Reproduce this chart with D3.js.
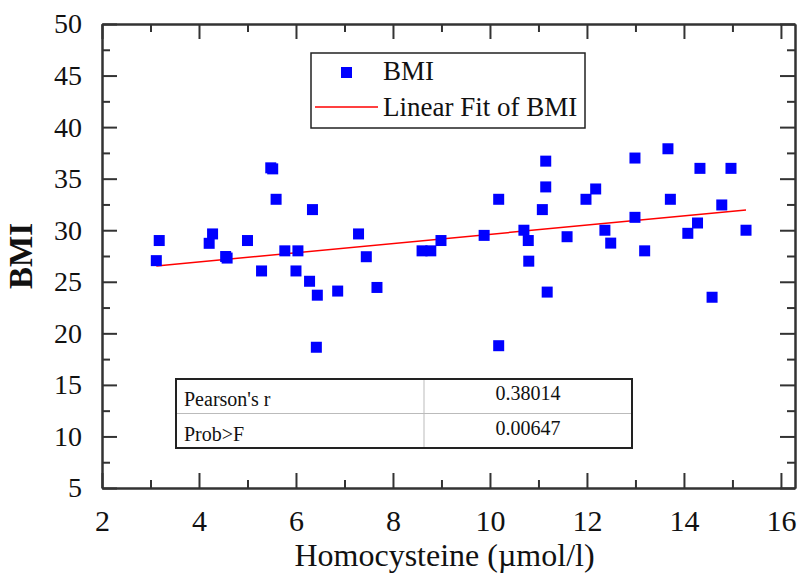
<!DOCTYPE html>
<html>
<head>
<meta charset="utf-8">
<script src="https://cdn.jsdelivr.net/npm/d3@7"></script>
<style>
  body { margin: 0; background: #fff; }
  svg, svg text { font-family: "Liberation Serif", "LiberationSerif", Tinos, "Times New Roman", "DejaVu Serif", serif !important; }
  svg text { fill: #111; }
  .axis path, .axis line { stroke: #333; }
</style>
</head>
<body>
<div id="chart"></div>
<script>
// data
const hcy = [3.12, 3.18, 4.21, 4.28, 4.55, 4.58, 5.0, 5.29, 5.48, 5.52, 5.59, 5.77, 6.0, 6.04, 6.28, 6.34, 6.42, 6.44, 6.86, 7.29,
  7.45, 7.67, 8.6, 8.78, 8.99, 9.88, 10.18, 10.18, 10.7, 10.79, 10.8, 11.08, 11.15, 11.15, 11.18, 11.59, 11.98, 12.18, 12.37, 12.49,
  12.99, 12.99, 13.19, 13.67, 13.72, 14.08, 14.28, 14.33, 14.58, 14.78, 14.97, 15.28]
const bmi = [27.05, 29.0, 28.73, 29.64, 27.45, 27.3, 29.0, 26.05, 36.05, 35.95, 33.0, 28.0, 26.05, 28.0, 25.05, 32.0, 18.65, 23.7, 24.1, 29.64,
  27.43, 24.45, 28.0, 28.0, 29.0, 29.5, 33.0, 18.8, 30.0, 29.0, 27.0, 32.0, 36.7, 34.2, 24.0, 29.37, 33.0, 34.0, 30.0, 28.75,
  37.0, 31.25, 28.0, 37.9, 33.0, 29.7, 30.7, 36.0, 23.5, 32.45, 36.0, 30.0]
const fitX = [3.12, 15.28]
const fitY = [26.53, 31.96]
const xTicks = [2, 4, 6, 8, 10, 12, 14, 16]
const yTicks = [5, 10, 15, 20, 25, 30, 35, 40, 45, 50]
const statNames = ["Pearson's r", "Prob>F"]
const statValues = ["0.38014", "0.00647"]

const WIDTH = 800, HEIGHT = 581
const MARGIN = {TOP: 24, RIGHT: 5, BOTTOM: 93, LEFT: 102}
const SERIF = "'Liberation Serif', 'Times New Roman', serif"

const svg = d3.select("#chart").append("svg")
  .attr("width", WIDTH)
  .attr("height", HEIGHT)
  .attr("font-family", SERIF)

const x = d3.scaleLinear().domain([2, 16.29]).range([MARGIN.LEFT, WIDTH - MARGIN.RIGHT])
const y = d3.scaleLinear().domain([5, 50]).range([HEIGHT - MARGIN.BOTTOM, MARGIN.TOP])

const xMinor = d3.range(3, 16.5, 2)
const yMinor = d3.range(7.5, 50, 5)

function drawAxis(axis, tx, ty, labels, fontSize) {
  const g = svg.append("g").attr("class", "axis")
    .attr("transform", `translate(${tx},${ty})`)
    .call(axis)
    .attr("font-family", SERIF)
  g.select(".domain").attr("stroke-width", 2)
  g.selectAll(".tick line").attr("stroke-width", 2)
  if (!labels) g.selectAll(".tick text").remove()
  else g.selectAll(".tick text").attr("font-size", fontSize).attr("fill", "#111")
  return g
}

const yb = HEIGHT - MARGIN.BOTTOM
const xr = WIDTH - MARGIN.RIGHT

// minor ticks
drawAxis(d3.axisBottom(x).tickValues(xMinor).tickSize(-8).tickSizeOuter(0), 0, yb, false)
drawAxis(d3.axisTop(x).tickValues(xMinor).tickSize(-8).tickSizeOuter(0), 0, MARGIN.TOP, false)
drawAxis(d3.axisLeft(y).tickValues(yMinor).tickSize(-8).tickSizeOuter(0), MARGIN.LEFT, 0, false)
drawAxis(d3.axisRight(y).tickValues(yMinor).tickSize(-8).tickSizeOuter(0), xr, 0, false)

// major ticks
const bx = drawAxis(d3.axisBottom(x).tickValues(xTicks).tickSize(-15).tickSizeOuter(0).tickPadding(22), 0, yb, true, "30px")
bx.selectAll(".tick text").attr("dy", "0.71em")
drawAxis(d3.axisTop(x).tickValues(xTicks).tickSize(-15).tickSizeOuter(0), 0, MARGIN.TOP, false)
drawAxis(d3.axisLeft(y).tickValues(yTicks).tickSize(-15).tickSizeOuter(0).tickPadding(20), MARGIN.LEFT, 0, true, "28px")
drawAxis(d3.axisRight(y).tickValues(yTicks).tickSize(-15).tickSizeOuter(0), xr, 0, false)

// axis titles
svg.append("text")
  .attr("x", (MARGIN.LEFT + xr) / 2 - 4)
  .attr("y", 566)
  .attr("text-anchor", "middle")
  .attr("font-size", "32px")
  .text("Homocysteine (\u00b5mol/l)")

svg.append("text")
  .attr("transform", "translate(32,256) rotate(-90)")
  .attr("text-anchor", "middle")
  .attr("font-size", "33px")
  .attr("font-weight", "bold")
  .text("BMI")

// fit line
const line = d3.line().x(d => x(d[0])).y(d => y(d[1]))
svg.append("path")
  .datum(d3.zip(fitX, fitY))
  .attr("d", line)
  .attr("fill", "none")
  .attr("stroke", "#ff0000")
  .attr("stroke-width", 1.5)

// points
const size = 11
svg.selectAll("rect.pt")
  .data(d3.zip(hcy, bmi))
  .enter()
  .append("rect")
    .attr("class", "pt")
    .attr("x", d => x(d[0]) - size / 2)
    .attr("y", d => y(d[1]) - size / 2)
    .attr("width", size)
    .attr("height", size)
    .attr("fill", "#0000ff")

// legend
const lg = svg.append("g")
lg.append("rect")
  .attr("x", 311).attr("y", 53).attr("width", 274).attr("height", 75)
  .attr("fill", "#fff").attr("stroke", "#222").attr("stroke-width", 1.5)
lg.append("rect")
  .attr("x", 341).attr("y", 67).attr("width", 11).attr("height", 11)
  .attr("fill", "#0000ff")
lg.append("line")
  .attr("x1", 315).attr("x2", 378).attr("y1", 107).attr("y2", 107)
  .attr("stroke", "#ff0000").attr("stroke-width", 1.5)
lg.append("text").attr("x", 383).attr("y", 80).attr("font-size", "27px").text("BMI")
lg.append("text").attr("x", 383).attr("y", 116).attr("font-size", "27px").text("Linear Fit of BMI")

// stats table
const tb = svg.append("g")
const tL = 176, tR = 632, tT = 379, tB = 448, tMid = 424, rowH = (tB - tT) / 2
tb.append("line").attr("x1", tL).attr("x2", tR).attr("y1", tT + rowH).attr("y2", tT + rowH)
  .attr("stroke", "#bbb").attr("stroke-width", 1)
tb.append("line").attr("x1", tMid).attr("x2", tMid).attr("y1", tT).attr("y2", tB)
  .attr("stroke", "#bbb").attr("stroke-width", 1)
tb.append("rect").attr("x", tL).attr("y", tT).attr("width", tR - tL).attr("height", tB - tT)
  .attr("fill", "none").attr("stroke", "#222").attr("stroke-width", 2)
tb.selectAll("text.nm")
  .data(statNames)
  .enter()
  .append("text")
    .attr("x", tL + 8)
    .attr("y", (d, i) => tT + 27 + i * rowH)
    .attr("font-size", "20px")
    .text(d => d)
tb.selectAll("text.val")
  .data(statValues)
  .enter()
  .append("text")
    .attr("x", (tMid + tR) / 2)
    .attr("y", (d, i) => tT + 21 + i * rowH)
    .attr("text-anchor", "middle")
    .attr("font-size", "20px")
    .text(d => d)
</script>
</body>
</html>
